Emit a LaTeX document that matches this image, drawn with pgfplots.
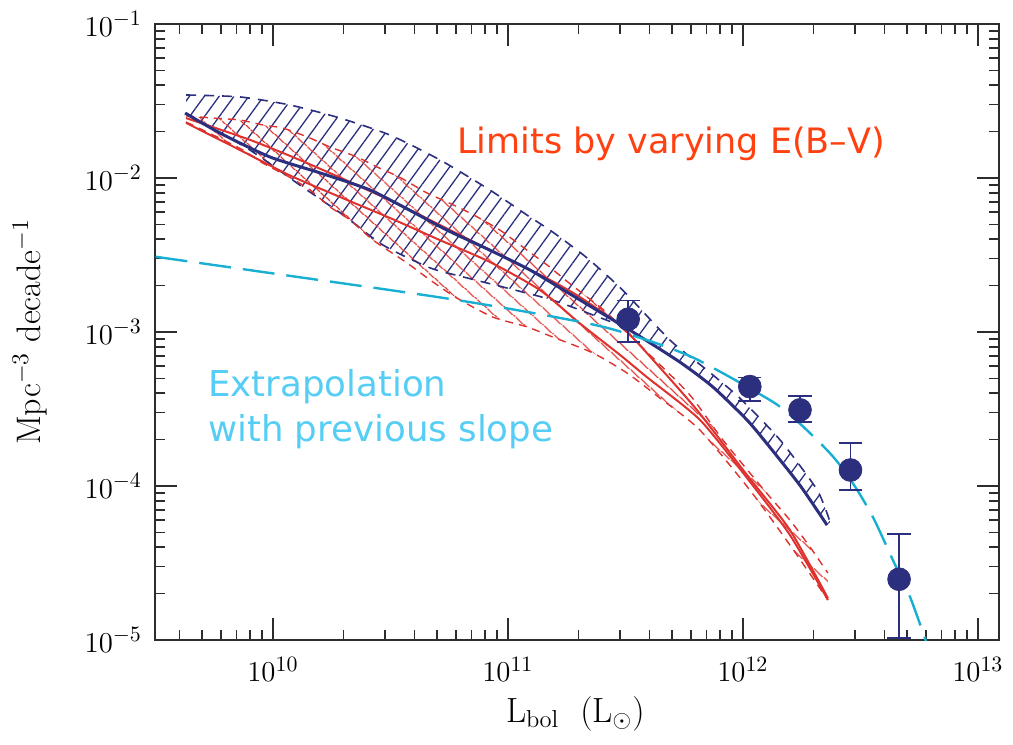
\documentclass[border=0pt]{standalone}
\usepackage{pgfplots}
\pgfplotsset{compat=1.18}
\usepgfplotslibrary{fillbetween}
\usetikzlibrary{patterns.meta}
\usepackage{fontspec}
\newfontfamily\annot{DejaVu Sans}
\definecolor{navyc}{RGB}{43,47,126}
\definecolor{redc}{RGB}{222,50,46}
\definecolor{limitc}{RGB}{255,64,16}
\definecolor{cyanl}{RGB}{25,175,210}
\definecolor{cyant}{RGB}{85,205,245}
\definecolor{framec}{RGB}{45,45,45}
\begin{document}
\begin{tikzpicture}
\begin{axis}[name=ax, scale only axis, width=422pt, height=308pt,
  xmode=log, ymode=log, xmin=3.15e9, xmax=1.23e13, ymin=1e-5, ymax=1e-1,
  axis line style={line width=1pt, framec},
  major tick length=11pt, minor tick length=5pt,
  every tick/.style={framec, line width=0.8pt},
  tick label style={font=\fontsize{15}{18}\selectfont},
  xticklabel style={yshift=-5pt}, yticklabel style={xshift=-3pt},
  xlabel={$\mathrm{L_{bol}}\ \ (\mathrm{L}_{\odot})$},
  ylabel={Mpc$^{-3}$ decade$^{-1}$},
  xlabel style={font=\fontsize{17.5}{20}\selectfont, at={(rel axis cs:0.498,-0.12)}, anchor=center},
  ylabel style={font=\fontsize{17}{20}\selectfont, at={(rel axis cs:-0.148,0.5)}, anchor=center},
]
% ---------- blue band ----------
\addplot[name path=U, navyc, line width=0.8pt, dash pattern=on 5pt off 4pt, smooth, tension=0.4] coordinates {
(4.27e9,3.46e-2) (7.24e9,3.36e-2) (1.18e10,2.98e-2) (1.93e10,2.45e-2) (3.15e10,1.90e-2)
(5.14e10,1.31e-2) (8.38e10,8.36e-3) (1.205e11,5.75e-3) (1.55e11,4.46e-3) (2.17e11,3.03e-3)
(3.08e11,1.87e-3) (4.89e11,8.87e-4) (7.03e11,5.66e-4) (9.71e11,3.72e-4) (1.44e12,1.99e-4)
(2.07e12,9.42e-5) (2.35e12,5.83e-5)};
\addplot[name path=L, navyc, line width=0.8pt, dash pattern=on 5pt off 4pt, smooth, tension=0.4] coordinates {
(4.27e9,2.64e-2) (7.98e9,1.52e-2) (1.30e10,9.01e-3) (1.99e10,5.75e-3) (2.94e10,3.67e-3)
(4.66e10,2.61e-3) (6.44e10,2.28e-3) (9.91e10,1.93e-3) (1.55e11,1.61e-3) (2.30e11,1.29e-3)
(3.30e11,1.03e-3) (5.39e11,6.38e-4) (7.45e11,4.40e-4) (1.04e12,2.69e-4) (1.26e12,1.90e-4)
(1.75e12,1.01e-4) (2.28e12,5.58e-5)};
\addplot[draw=none, pattern={Lines[angle=54,distance=6pt,line width=0.65pt]}, pattern color=navyc]
  fill between[of=U and L];
% ---------- red band ----------
\addplot[name path=RU, redc, line width=0.7pt, dash pattern=on 4pt off 3pt, smooth, tension=0.4] coordinates {
(4.27e9,2.53e-2) (5.56e9,2.45e-2) (7.24e9,2.38e-2) (9.06e9,2.21e-2) (1.10e10,2.11e-2)
(1.40e10,1.85e-2) (1.75e10,1.59e-2) (2.28e10,1.37e-2) (2.77e10,1.18e-2) (3.47e10,1.01e-2)
(4.52e10,8.00e-3) (5.50e10,6.99e-3) (6.89e10,5.93e-3) (9.25e10,4.59e-3) (1.205e11,3.40e-3)
(1.47e11,2.72e-3) (1.78e11,2.14e-3) (2.17e11,1.69e-3) (2.64e11,1.33e-3) (4.02e11,7.10e-4)
(5.95e11,3.90e-4) (8.22e11,1.99e-4) (1.26e12,9.02e-5) (1.585e12,6.01e-5) (1.93e12,4.02e-5)
(2.30e12,2.72e-5)};
\addplot[name path=RL, redc, line width=0.7pt, dash pattern=on 4pt off 3pt, smooth, tension=0.4] coordinates {
(4.27e9,2.31e-2) (5.78e9,1.85e-2) (7.45e9,1.52e-2) (9.06e9,1.25e-2) (1.18e10,1.01e-2)
(1.44e10,8.36e-3) (1.75e10,6.49e-3) (2.13e10,5.34e-3) (2.67e10,3.95e-3) (3.72e10,2.81e-3)
(4.66e10,2.18e-3) (6.07e10,1.66e-3) (8.63e10,1.25e-3) (1.205e11,1.08e-3) (1.55e11,9.28e-4)
(2.30e11,7.31e-4) (3.21e11,5.42e-4) (4.44e11,3.72e-4) (6.56e11,2.31e-4) (1.07e12,9.42e-5)
(1.585e12,4.14e-5) (2.30e12,1.82e-5)};
\addplot[draw=none, pattern={Lines[angle=-42,distance=6.5pt,line width=0.65pt]}, pattern color=redc]
  fill between[of=RU and RL];
% ---------- red solid lines ----------
\addplot[redc, line width=1pt, smooth, tension=0.4] coordinates {
(4.27e9,2.45e-2) (7.98e9,1.77e-2) (1.30e10,1.31e-2) (2.13e10,9.42e-3) (3.47e10,6.68e-3)
(5.67e10,4.59e-3) (9.25e10,3.16e-3) (1.51e11,2.18e-3) (2.02e11,1.69e-3) (3.00e11,1.11e-3)
(3.90e11,7.31e-4) (6.37e11,3.12e-4) (1.04e12,1.18e-4) (1.585e12,5.18e-5) (2.30e12,1.87e-5)};
\addplot[redc, line width=1pt, smooth, tension=0.4] coordinates {
(4.27e9,2.28e-2) (7.24e9,1.52e-2) (1.18e10,1.04e-2) (1.93e10,7.53e-3) (3.15e10,5.50e-3)
(5.14e10,3.95e-3) (8.38e10,2.85e-3) (1.37e11,1.87e-3) (2.02e11,1.14e-3) (3.00e11,7.10e-4)
(3.90e11,5.10e-4) (6.56e11,2.69e-4) (1.04e12,1.13e-4) (1.585e12,4.81e-5) (2.30e12,1.82e-5)};
% ---------- navy central line ----------
\addplot[navyc, line width=1.5pt, smooth, tension=0.4] coordinates {
(4.23e9,2.64e-2) (5.95e9,1.96e-2) (9.71e9,1.37e-2) (1.585e10,1.08e-2) (2.59e10,8.36e-3)
(3.94e10,6.02e-3) (5.50e10,4.59e-3) (8.38e10,3.40e-3) (1.24e11,2.53e-3) (1.78e11,1.82e-3)
(2.72e11,1.23e-3) (3.30e11,1.03e-3) (5.39e11,6.38e-4) (7.45e11,4.40e-4) (1.04e12,2.69e-4)
(1.26e12,1.90e-4) (1.75e12,1.01e-4) (2.28e12,5.58e-5)};
% ---------- cyan extrapolation ----------
\addplot[cyanl, line width=1.2pt, dash pattern=on 16pt off 6pt, smooth, tension=0.5] coordinates {
(3.17e9,3.08e-3) (1e10,2.40e-3) (6.12e10,1.61e-3) (2.23e11,1.13e-3) (3.90e11,8.87e-4)
(5.94e11,6.98e-4) (8.22e11,5.40e-4) (1.10e12,4.20e-4) (1.44e12,3.27e-4) (1.87e12,2.31e-4)
(2.42e12,1.55e-4) (2.94e12,1.04e-4) (3.57e12,6.31e-5) (4.35e12,3.30e-5) (5.14e12,1.91e-5)
(6.05e12,9.57e-6)};
% ---------- data points ----------
\addplot[navyc, only marks, mark=*, mark size=5.7pt, mark options={fill=navyc, draw=navyc},
  error bars/.cd, y dir=both, y explicit,
  error bar style={line width=0.9pt, navyc},
  error mark options={rotate=90, line width=0.9pt, mark size=5.8pt, navyc}] coordinates {
(3.25e11,1.21e-3) += (0,0.39e-3) -= (0,0.345e-3)
(1.07e12,4.42e-4) += (0,0.64e-4) -= (0,0.84e-4)
(1.75e12,3.12e-4) += (0,0.74e-4) -= (0,0.53e-4)
(2.87e12,1.27e-4) += (0,0.64e-4) -= (0,0.328e-4)
(4.62e12,2.48e-5) += (0,2.40e-5) -= (0,1.45e-5)};
% ---------- annotations ----------
\node[anchor=base west, text=limitc, font=\annot\fontsize{17.5}{20}\selectfont, inner sep=0pt]
  at (axis cs:6.07e10,1.45e-2) {Limits by varying E(B–V)};
\node[anchor=base west, text=cyant, font=\annot\fontsize{17.8}{20}\selectfont, inner sep=0pt]
  at (axis cs:5.28e9,3.80e-4) {Extrapolation};
\node[anchor=base west, text=cyant, font=\annot\fontsize{17.8}{20}\selectfont, inner sep=0pt]
  at (axis cs:5.28e9,1.94e-4) {with previous slope};
\end{axis}
\pgfresetboundingbox
\path ([shift={(-77.5pt,-52.5pt)}]ax.south west) rectangle ([shift={(7pt,12pt)}]ax.north east);
\end{tikzpicture}
\end{document}
